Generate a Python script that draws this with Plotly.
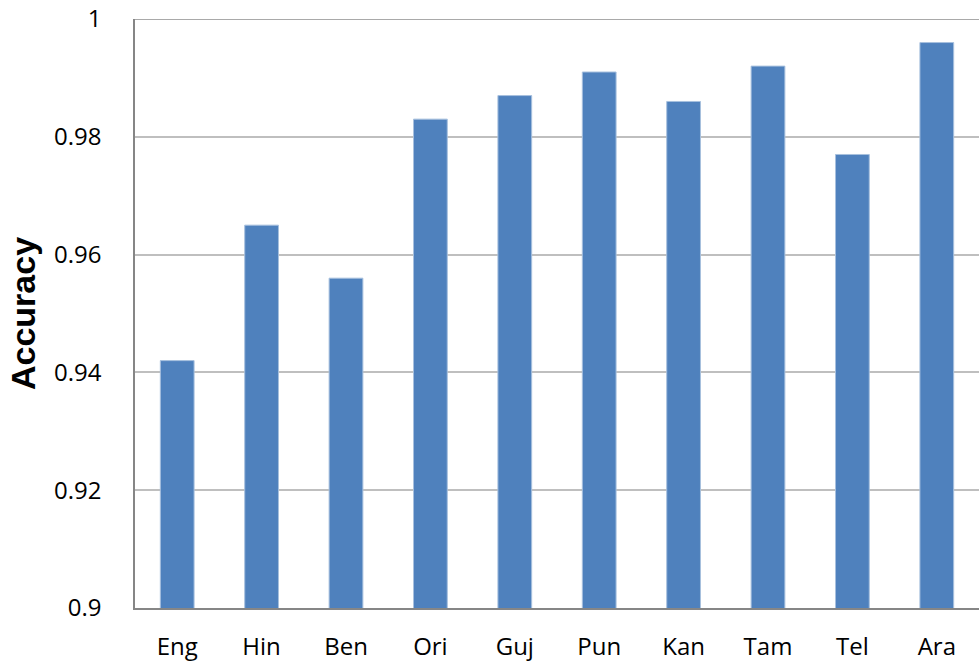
import plotly.graph_objects as go

categories = ["Eng", "Hin", "Ben", "Ori", "Guj", "Pun", "Kan", "Tam", "Tel", "Ara"]
accuracy = [0.942, 0.965, 0.956, 0.983, 0.987, 0.991, 0.986, 0.992, 0.977, 0.996]
y_ticks = [0.9, 0.92, 0.94, 0.96, 0.98, 1.0]
y_tick_labels = ["0.9", "0.92", "0.94", "0.96", "0.98", "1"]

fig = go.Figure(
    go.Bar(
        x=categories,
        y=accuracy,
        width=0.4,
        marker=dict(color="#4F81BD", line=dict(color="#A7C0DE", width=1)),
    )
)

tick_font = dict(family="Open Sans, sans-serif", size=24, color="#000000")

fig.update_layout(
    width=979,
    height=665,
    margin=dict(l=135, r=0, t=19, b=57),
    paper_bgcolor="white",
    plot_bgcolor="white",
    showlegend=False,
    bargap=0.6,
    xaxis=dict(
        type="category",
        showline=True,
        linecolor="#868686",
        linewidth=1.5,
        showgrid=False,
        ticks="",
        tickfont=tick_font,
        ticklabelstandoff=16,
    ),
    yaxis=dict(
        range=[0.9, 1.0],
        tickvals=y_ticks,
        ticktext=y_tick_labels,
        showline=True,
        linecolor="#868686",
        linewidth=1.5,
        showgrid=True,
        gridcolor="#BFBFBF",
        gridwidth=1.5,
        zeroline=False,
        ticks="",
        tickfont=tick_font,
        ticklabelstandoff=27,
        title=dict(
            text="Accuracy",
            font=dict(family="Liberation Sans, Arial, sans-serif", size=34, color="#000000", weight="bold"),
            standoff=8,
        ),
    ),
)

fig.add_shape(
    type="line", xref="paper", yref="y", x0=0, x1=1, y0=1.0, y1=1.0,
    line=dict(color="#8C8C8C", width=1.5), layer="above",
)

fig.write_html(
    "out.html",
    config={"displayModeBar": False},
    post_script="document.body.style.margin='0';document.body.style.overflow='hidden';",
)
